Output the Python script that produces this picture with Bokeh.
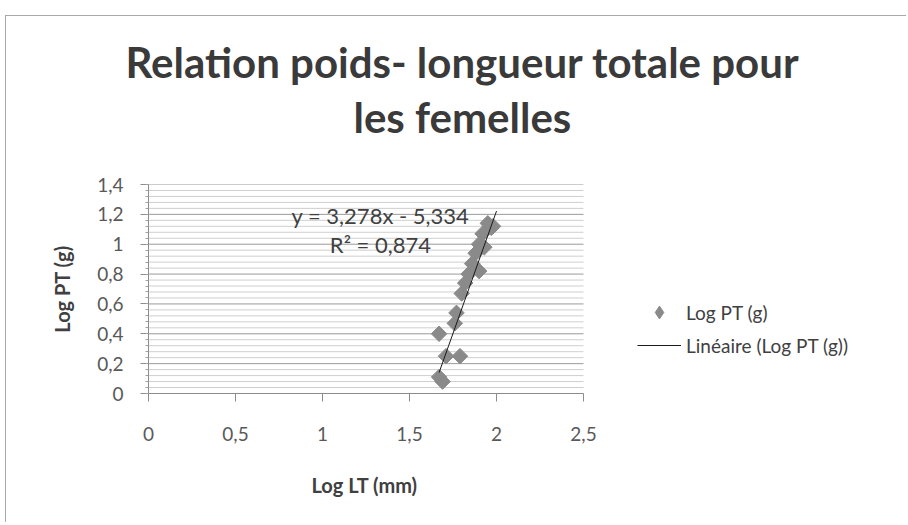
import numpy as np
from bokeh.plotting import figure
from bokeh.models import (ColumnDataSource, FixedTicker, Title, Label, Legend,
                          LegendItem, Range1d)
from bokeh.embed import file_html
from bokeh.resources import INLINE

# ---- data ----
log_lt = [1.67, 1.69, 1.67, 1.71, 1.79, 1.76, 1.77, 1.80, 1.82, 1.84,
          1.86, 1.88, 1.90, 1.92, 1.97, 1.95, 1.93, 1.90, 1.98]
log_pt = [0.40, 0.08, 0.11, 0.25, 0.25, 0.47, 0.54, 0.67, 0.74, 0.80,
          0.87, 0.94, 1.00, 1.07, 1.11, 1.14, 0.98, 0.82, 1.12]
slope = 3.278
intercept = -5.334
r2 = 0.874
trend_x = [1.67, 2.0]

x_min, x_max = 0, 2.5
y_min, y_max = 0, 1.4
x_ticks = [0, 0.5, 1, 1.5, 2, 2.5]
x_tick_labels = ["0", "0,5", "1", "1,5", "2", "2,5"]
y_ticks = [0, 0.2, 0.4, 0.6, 0.8, 1.0, 1.2, 1.4]
y_tick_labels = ["0", "0,2", "0,4", "0,6", "0,8", "1", "1,2", "1,4"]

title_line1 = "Relation  poids- longueur totale pour"
title_line2 = "les femelles"
x_label = "Log LT (mm)"
y_label = "Log PT (g)"
series_name = "Log PT (g)"
trend_name = "Linéaire (Log PT (g))"

FONT = "Lato"
TXT = "#595959"

# page placement of the chart box (outer border at left 5, top 15)
OX, OY = 5, 15
W, H = 906 - OX, 522 - OY
FL, FR, FT, FB = 148 - OX - 1, 583 - OX - 1, 184 - OY - 1, 393 - OY - 1
FR_EXT = 880 - OX                         # frame extended to host the legend
x_end = x_max * (FR_EXT - FL) / (FR - FL)

p = figure(width=W, height=H, output_backend="svg", toolbar_location=None,
           x_range=Range1d(x_min, x_end), y_range=Range1d(y_min, y_max),
           min_border_left=FL, min_border_right=W - FR_EXT,
           min_border_top=FT, min_border_bottom=H - FB)
p.margin = (OY, 0, 0, OX)
p.styles = {"border-top": "1px solid #a8a8a8", "border-left": "1px solid #a8a8a8"}
p.outline_line_color = None
p.background_fill_color = "white"
p.border_fill_color = "white"

# titles (line 2 first so it sits next to the frame)
t2 = Title(text=title_line2, align="left", text_font=FONT,
           text_font_size="42px", text_font_style="bold", text_color="#3a3a3a",
           standoff=86, offset=205)
t1 = Title(text=title_line1, align="left", text_font=FONT,
           text_font_size="42px", text_font_style="bold", text_color="#3a3a3a",
           standoff=-81, offset=-23)
p.add_layout(t2, "above")
p.add_layout(t1, "above")

# axes
minor_y = [round(v, 2) for v in np.arange(y_min, y_max + 1e-6, 0.04)]
p.yaxis.ticker = FixedTicker(ticks=y_ticks, minor_ticks=minor_y)
p.yaxis.major_label_overrides = dict(zip(y_ticks, y_tick_labels))
p.xaxis.ticker = FixedTicker(ticks=x_ticks)
p.xaxis.major_label_overrides = dict(zip(x_ticks, x_tick_labels))
p.xaxis.bounds = (x_min, x_max)

for ax in (p.xaxis[0], p.yaxis[0]):
    ax.axis_line_color = "#8c8c8c"
    ax.major_tick_line_color = "#8c8c8c"
    ax.major_tick_in = 0
    ax.major_tick_out = 8
    ax.major_label_text_font = FONT
    ax.major_label_text_font_size = "19px"
    ax.major_label_text_color = TXT
    ax.axis_label_text_font = FONT
    ax.axis_label_text_font_size = "20px"
    ax.axis_label_text_font_style = "bold"
    ax.axis_label_text_color = "#404040"

p.xaxis.minor_tick_line_color = None
p.xaxis.major_label_standoff = 25

p.yaxis.minor_tick_line_color = "#a0a0a0"
p.yaxis.minor_tick_in = 0
p.yaxis.minor_tick_out = 3
p.yaxis.major_label_standoff = 17
p.yaxis.axis_label = y_label
p.yaxis.axis_label_standoff = 20

# x-axis title, centred under the axes part only
xt = Title(text=x_label, align="left", text_font=FONT, text_font_size="20px",
           text_font_style="bold", text_color="#404040", standoff=54, offset=163)
p.add_layout(xt, "below")

p.xgrid.grid_line_color = None
p.ygrid.grid_line_color = None

# horizontal gridlines limited to the axes extent
minor_only = [v for v in minor_y if all(abs(v - t) > 1e-6 for t in y_ticks)]
p.segment(x0=[x_min] * len(minor_only), x1=[x_max] * len(minor_only),
          y0=minor_only, y1=minor_only, line_color="#cfcfcf", line_width=1)
p.segment(x0=[x_min] * len(y_ticks[1:]), x1=[x_max] * len(y_ticks[1:]),
          y0=y_ticks[1:], y1=y_ticks[1:], line_color="#9a9a9a", line_width=1)

# data
src = ColumnDataSource(dict(x=log_lt, y=log_pt))
pts = p.scatter("x", "y", source=src, marker="square", angle=np.pi / 4,
                size=11, fill_color="#8a8a8a", line_color="#8a8a8a")
# legend swatch for the series (legend glyphs are drawn unrotated); NaN = not drawn
swatch = p.scatter(x=[np.nan], y=[np.nan], marker="diamond", size=15,
                   fill_color="#8a8a8a", line_color="#8a8a8a")

trend_y = [slope * v + intercept for v in trend_x]
ln = p.line(trend_x, trend_y, line_color="#1a1a1a", line_width=1)

# equation
eq1 = "y = " + f"{slope:.3f}".replace(".", ",") + "x - " + f"{-intercept:.3f}".replace(".", ",")
eq2 = "R² = " + f"{r2:.3f}".replace(".", ",")
for txt, yy in ((eq1, 1.195), (eq2, 1.0)):
    p.add_layout(Label(x=1.333, y=yy, text=txt, text_align="center",
                       text_baseline="middle", text_font=FONT,
                       text_font_size="22px", text_color="#404040"))

legend = Legend(items=[LegendItem(label=series_name, renderers=[swatch]),
                       LegendItem(label=trend_name, renderers=[ln])],
                location=(637 - 148, 32), orientation="vertical",
                glyph_width=44, glyph_height=32, label_height=20,
                label_standoff=5, spacing=1, padding=0, margin=0,
                border_line_color=None, background_fill_alpha=0,
                label_text_font=FONT, label_text_font_size="19px",
                label_text_color="#404040")
p.add_layout(legend, "center")

open("out.html", "w").write(file_html(p, INLINE))
